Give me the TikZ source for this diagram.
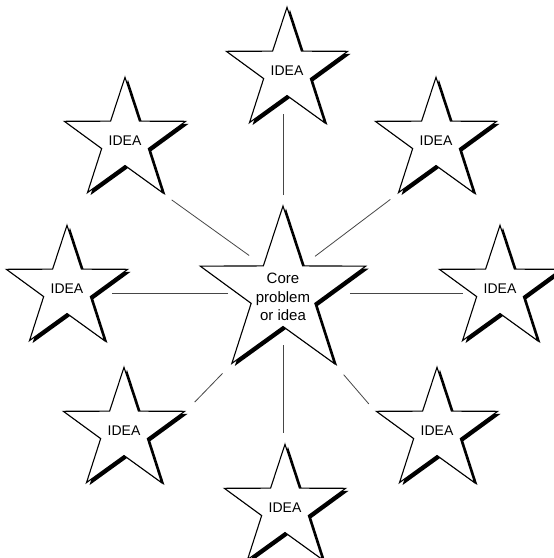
\documentclass[tikz,border=0pt]{standalone}
\usepackage{fontspec}
\setmainfont{Liberation Sans}
\usetikzlibrary{shapes.geometric,shadows}

\begin{document}
\begin{tikzpicture}[x=1pt,y=-1pt,
  idea/.style={star,star points=5,star point ratio=2.6,minimum size=122pt,inner sep=1pt,
    draw=black,line width=1.1pt,fill=white,
    drop shadow={shadow xshift=3pt,shadow yshift=-2.5pt,fill=black,opacity=1},
    font=\fontsize{14}{16}\selectfont},
  core/.style={idea,minimum size=174pt},
  link/.style={gray!55!black,line width=0.8pt}]
  \useasboundingbox (0,0) rectangle (554,558);
  % centre star and the ideas round it
  \node[core] (c) at (283,293) {};
  \node[font=\fontsize{15}{18.5}\selectfont,align=center,inner sep=0pt] (ct) at (283,297) {Core\\problem\\or idea};
  \foreach \n/\x/\y in {t/287/71,ul/125/141,ur/436/141,l/67/289,r/500/289,ll/124/431,lr/437/431,b/285/508}
    \node[idea] (\n) at (\x,\y) {IDEA};
  % spokes
  \draw[link,shorten <=9pt,shorten >=18pt] (c.90) -- (c.90 |- t.-90);
  \draw[link,shorten <=18pt,shorten >=9pt] (c.-90) -- (c.-90 |- b.90);
  \draw[link,shorten <=8pt,shorten >=10pt] (c.180) -- (c.180 -| l.0);
  \draw[link,shorten <=20pt,shorten >=2pt] (c.0) -- (c.0 -| r.180);
  \draw[link,shorten <=17pt,shorten >=10pt] (c.126) -- (ul.-54);
  \draw[link,shorten <=15pt,shorten >=9pt] (c.54) -- (ur.234);
  \draw[link,shorten <=12pt,shorten >=12pt] (c.234) -- (ll.18);
  \draw[link,shorten <=13pt,shorten >=9pt] (c.306) -- (lr.162);
\end{tikzpicture}
\end{document}
